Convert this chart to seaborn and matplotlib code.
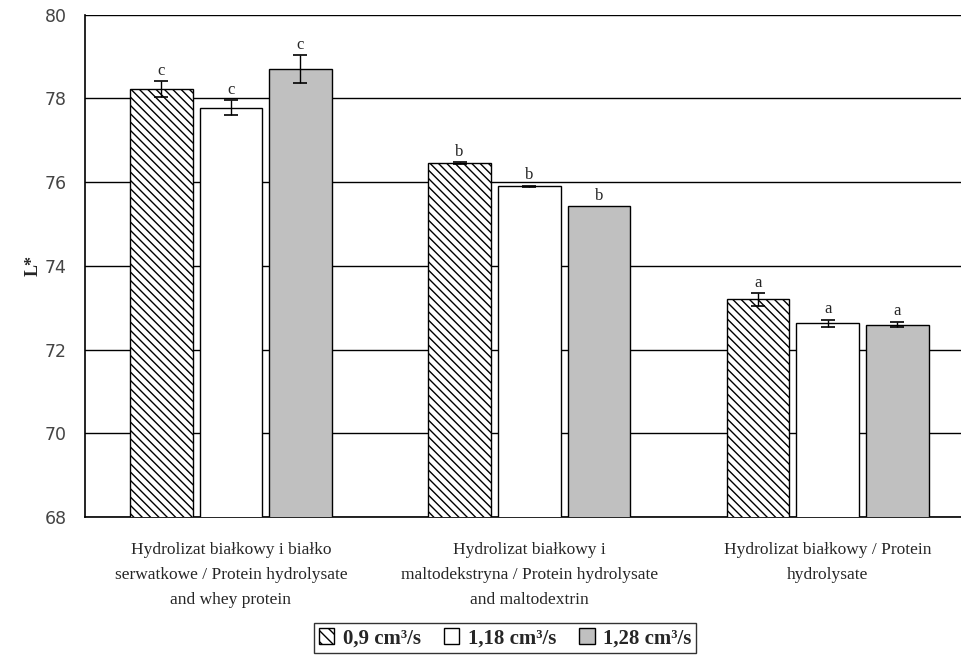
import pandas as pd
import numpy as np
import matplotlib.pyplot as plt
import seaborn as sns

groups = ["Hydrolizat białkowy i białko\nserwatkowe / Protein hydrolysate\nand whey protein",
          "Hydrolizat białkowy i\nmaltodekstryna / Protein hydrolysate\nand maltodextrin",
          "Hydrolizat białkowy / Protein\nhydrolysate"]
flows = ["0,9 cm³/s", "1,18 cm³/s", "1,28 cm³/s"]
flow_09 = [78.22, 76.46, 73.20]
flow_118 = [77.78, 75.90, 72.63]
flow_128 = [78.70, 75.42, 72.60]
err_09 = [0.19, 0.02, 0.15]
err_118 = [0.18, 0.02, 0.08]
err_128 = [0.33, 0.0, 0.07]
letters_09 = ["c", "b", "a"]
letters_118 = ["c", "b", "a"]
letters_128 = ["c", "b", "a"]

df = pd.DataFrame({
    "group": groups * 3,
    "flow": [flows[0]] * 3 + [flows[1]] * 3 + [flows[2]] * 3,
    "L": flow_09 + flow_118 + flow_128,
    "err": err_09 + err_118 + err_128,
    "letter": letters_09 + letters_118 + letters_128,
})

sns.set_style("white")
plt.rcParams["font.family"] = ["Liberation Serif", "DejaVu Serif"]
plt.rcParams["hatch.linewidth"] = 1.0

fig = plt.figure(figsize=(9.62, 6.69), dpi=100)
ax = fig.add_axes([0.088, 0.227, 0.915, 0.751])

sns.barplot(data=df, x="group", y="L", hue="flow", order=groups, hue_order=flows,
            palette=["white", "white", "#c0c0c0"], edgecolor="black", linewidth=1.0,
            width=0.70, gap=0.1, errorbar=None, ax=ax, legend=True, zorder=3)

hatches = ["\\\\\\\\", "", ""]
bar_containers = list(ax.containers[:3])
for k, cont in enumerate(bar_containers):
    for j, bar in enumerate(cont):
        bar.set_hatch(hatches[k])
        row = df[(df["flow"] == flows[k]) & (df["group"] == groups[j])].iloc[0]
        cx = bar.get_x() + bar.get_width() / 2
        top = bar.get_height()
        if row["err"] > 0:
            ax.errorbar(cx, top, yerr=row["err"], color="black", capsize=5,
                        elinewidth=1.0, capthick=1.2, zorder=4)
        ax.text(cx, top + row["err"] + 0.06, row["letter"], ha="center", va="bottom",
                fontsize=12, zorder=5)

ax.set_ylim(68, 80)
ax.set_yticks(np.arange(68, 81, 2))
ax.yaxis.grid(True, color="black", linewidth=1.0, zorder=0)
ax.set_axisbelow(True)
ax.set_xlim(-0.49, 2.46)
ax.set_xticks([0.5, 1.5])
ax.set_xticklabels([])
ax.set_xticks([0, 1, 2], minor=True)
ax.set_xticklabels(groups, minor=True, fontsize=12.5, linespacing=1.75)
ax.tick_params(axis="x", which="major", direction="out", length=6, width=1, color="black")
ax.tick_params(axis="x", which="minor", length=0, pad=18)
ax.tick_params(axis="y", direction="out", length=7, width=1, color="black", pad=6)
for lab in ax.get_yticklabels():
    lab.set_fontfamily("DejaVu Sans")
    lab.set_fontsize(12.5)
    lab.set_color("#444444")

for s in ["top", "right"]:
    ax.spines[s].set_visible(False)
for s in ["left", "bottom"]:
    ax.spines[s].set_color("black")
    ax.spines[s].set_linewidth(1.2)

ax.set_xlabel("")
ax.set_ylabel("L*", fontsize=13, fontweight="bold", labelpad=2)

leg = ax.legend(loc="center", bbox_to_anchor=(0.525, 0.046), bbox_transform=fig.transFigure,
                ncol=3, frameon=True, fancybox=False, edgecolor="black",
                handlelength=0.75, handleheight=0.75, handletextpad=0.4, columnspacing=1.1,
                borderpad=0.25, prop={"weight": "bold", "size": 15})
leg.get_frame().set_linewidth(1.0)
for h, ht in zip(leg.legend_handles, hatches):
    h.set_hatch(ht.replace("\\\\\\\\", "\\\\\\"))

fig.savefig("out.png", dpi=100)
